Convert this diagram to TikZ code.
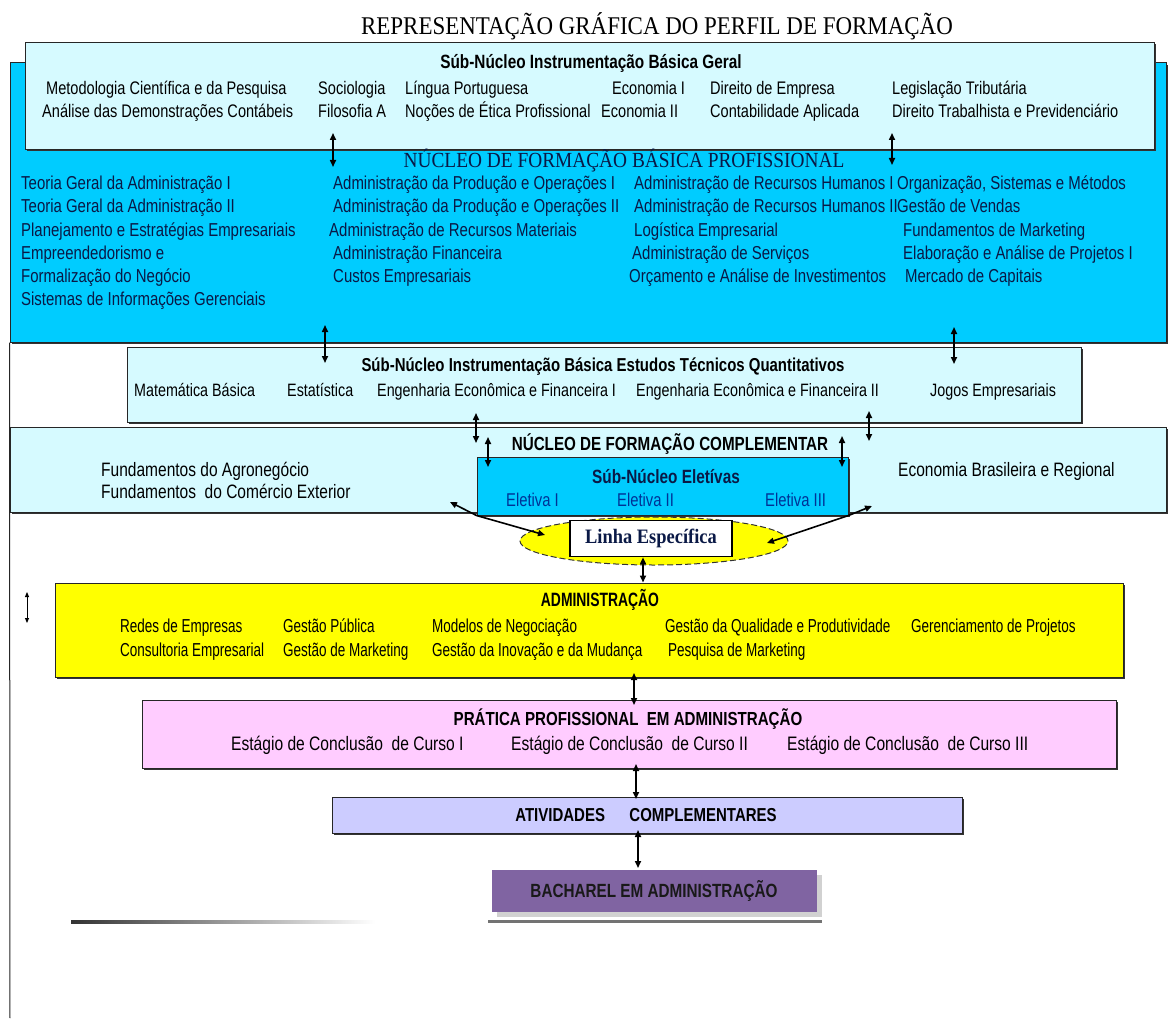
\documentclass[tikz,border=0pt]{standalone}
\usepackage{fontspec}
\setmainfont{Liberation Sans}
\newfontfamily\narrowfont[FakeStretch=0.8]{Liberation Sans}
\newfontfamily\tightfont[FakeStretch=0.72]{Liberation Sans}
\newfontfamily\timesfont[FakeStretch=0.9]{Liberation Serif}
\usetikzlibrary{shapes.geometric,arrows.meta,positioning,shadows}

\definecolor{palecyan}{RGB}{214,250,255}
\definecolor{skycyan}{RGB}{0,204,255}
\definecolor{navytext}{RGB}{10,25,70}
\definecolor{eletblue}{RGB}{0,50,150}
\definecolor{admyellow}{RGB}{255,255,0}
\definecolor{pinkbox}{RGB}{255,204,255}
\definecolor{lavender}{RGB}{204,204,255}
\definecolor{bachpurple}{RGB}{128,100,162}

\begin{document}
\begin{tikzpicture}[x=1pt, y=-1pt,
		panel/.style={draw=black!85, line width=1pt, inner sep=0pt,
			drop shadow={shadow xshift=2pt, shadow yshift=-2pt, fill=black!80, opacity=1}},
		item/.style={anchor=west, inner sep=0pt, text height=12pt, text depth=3pt,
			font=\narrowfont\fontsize{#1}{#1}\selectfont},
		item/.default=18.2,
		admitem/.style={anchor=west, inner sep=0pt, text height=12pt, text depth=3pt,
			font=\tightfont\fontsize{18.75}{19}\selectfont},
		heading/.style={inner sep=0pt, font=\narrowfont\bfseries\fontsize{#1}{#1}\selectfont},
		heading/.default=19,
		twoway/.style={{Triangle[length=7pt,width=6pt]}-{Triangle[length=7pt,width=6pt]}, line width=1.6pt}
	]
	\useasboundingbox (0,0) rectangle (1169,1019);
	\fill[white] (0,0) rectangle (1169,1019);

	\node[font=\timesfont\fontsize{25.5}{27}\selectfont, inner sep=0pt] (titulo) at (657,26)
		{REPRESENTAÇÃO GRÁFICA DO PERFIL DE FORMAÇÃO};

	% caixas
	\node[panel, fill=skycyan, minimum width=1156pt, minimum height=279pt] (basica) at (588,202.5) {};
	\node[panel, fill=palecyan, minimum width=1129pt, minimum height=107pt] (geral) at (589.5,96) {};
	\node[panel, fill=palecyan, minimum width=954pt, minimum height=75pt] (quant) at (604,384.5) {};
	\node[panel, fill=palecyan, minimum width=1156pt, minimum height=85pt] (compl) at (588,469.5) {};
	\node[panel, fill=skycyan, minimum width=371pt, minimum height=58pt] (elet) at (662.5,486) {};
	\node[ellipse, draw=black!80, line width=1pt, dash pattern=on 6pt off 3pt, fill=admyellow,
		minimum width=268pt, minimum height=48pt, inner sep=0pt] (linhaell) at (654,541) {};
	\node[draw=black, line width=1.6pt, fill=white, minimum width=162pt, minimum height=36pt,
		inner sep=0pt, text=navytext, font=\timesfont\bfseries\fontsize{20.5}{22}\selectfont]
		(linha) at (651,538.5) {Linha Específica};
	\node[panel, fill=admyellow, minimum width=1068pt, minimum height=94pt] (adm) at (589,630) {};
	\node[panel, fill=pinkbox, minimum width=974pt, minimum height=68pt] (pratica) at (629,734) {};
	\node[panel, fill=lavender, minimum width=630pt, minimum height=36pt] (ativ) at (647,815) {};
	\node[fill=bachpurple, minimum width=325pt, minimum height=42pt, inner sep=0pt,
		drop shadow={shadow xshift=5pt, shadow yshift=-5pt, fill=black!18, opacity=1}] (bach) at (654.5,891) {};

	% linhas soltas
	\coordinate (framebot) at (10,1018);
	\draw[line width=1pt, black!85] (basica.south west) -- (framebot);
	\shade[left color=black!80, right color=white] (71,920) rectangle (375,923);
	\fill[black!55] (488,920) rectangle (822,923);

	% sub-nucleo geral
	\node[heading=19.2] (geraltit) at (591,63) {Súb-Núcleo Instrumentação Básica Geral};
	\node[item] (g1) at (46,90) {Metodologia Científica e da Pesquisa};
	\node[item] (g2) at (318,90) {Sociologia};
	\node[item] (g3) at (405,90) {Língua Portuguesa};
	\node[item] (g4) at (612,90) {Economia I};
	\node[item] (g5) at (710,90) {Direito de Empresa};
	\node[item] (g6) at (892,90) {Legislação Tributária};
	\node[item] (g7) at (42,113) {Análise das Demonstrações Contábeis};
	\node[item] (g8) at (318,113) {Filosofia A};
	\node[item] (g9) at (405,113) {Noções de Ética Profissional};
	\node[item] (g10) at (601,113) {Economia II};
	\node[item] (g11) at (710,113) {Contabilidade Aplicada};
	\node[item] (g12) at (892,113) {Direito Trabalhista e Previdenciário};

	% nucleo de formacao basica profissional
	\node[font=\timesfont\fontsize{21.5}{22}\selectfont, text=navytext, inner sep=0pt] (basicatit) at (624,161)
		{NÚCLEO DE FORMAÇÃO BÁSICA PROFISSIONAL};
	\node[item=18.7, text=navytext] (b1) at (21,185) {Teoria Geral da Administração I};
	\node[item=18.7, text=navytext] (b2) at (21,208) {Teoria Geral da Administração II};
	\node[item=18.7, text=navytext] (b3) at (21,232) {Planejamento e Estratégias Empresariais};
	\node[item=18.7, text=navytext] (b4) at (21,255) {Empreendedorismo e};
	\node[item=18.7, text=navytext] (b5) at (21,278) {Formalização do Negócio};
	\node[item=18.7, text=navytext] (b6) at (21,301) {Sistemas de Informações Gerenciais};
	\node[item=18.7, text=navytext] (b7) at (333,185) {Administração da Produção e Operações I};
	\node[item=18.7, text=navytext] (b8) at (333,208) {Administração da Produção e Operações II};
	\node[item=18.7, text=navytext] (b9) at (329,232) {Administração de Recursos Materiais};
	\node[item=18.7, text=navytext] (b10) at (333,255) {Administração Financeira};
	\node[item=18.7, text=navytext] (b11) at (333,278) {Custos Empresariais};
	\node[item=18.7, text=navytext] (b12) at (634,185) {Administração de Recursos Humanos I};
	\node[item=18.7, text=navytext] (b13) at (634,208) {Administração de Recursos Humanos II};
	\node[item=18.7, text=navytext] (b14) at (634,232) {Logística Empresarial};
	\node[item=18.7, text=navytext] (b15) at (632,255) {Administração de Serviços};
	\node[item=18.7, text=navytext] (b16) at (629,278) {Orçamento e Análise de Investimentos};
	\node[item=18.7, text=navytext] (b17) at (897,185) {Organização, Sistemas e Métodos};
	\node[item=18.7, text=navytext] (b18) at (897,208) {Gestão de Vendas};
	\node[item=18.7, text=navytext] (b19) at (903,232) {Fundamentos de Marketing};
	\node[item=18.7, text=navytext] (b20) at (903,255) {Elaboração e Análise de Projetos I};
	\node[item=18.7, text=navytext] (b21) at (905,278) {Mercado de Capitais};

	% estudos tecnicos quantitativos
	\node[heading=18.7] (quanttit) at (603,367) {Súb-Núcleo Instrumentação Básica Estudos Técnicos Quantitativos};
	\node[item=17.9] (q1) at (134,392) {Matemática Básica};
	\node[item=17.9] (q2) at (287,392) {Estatística};
	\node[item=17.9] (q3) at (377,392) {Engenharia Econômica e Financeira I};
	\node[item=17.9] (q4) at (636,392) {Engenharia Econômica e Financeira II};
	\node[item=17.9] (q5) at (930,392) {Jogos Empresariais};

	% formacao complementar
	\node[heading] (compltit) at (670,444) {NÚCLEO DE FORMAÇÃO COMPLEMENTAR};
	\node[item=19.4] (c1) at (101,472) {Fundamentos do Agronegócio};
	\node[item=19.4] (c2) at (101,494) {Fundamentos\ \ do Comércio Exterior};
	\node[item=19.4] (c3) at (898,472) {Economia Brasileira e Regional};
	\node[heading=19.2, text=navytext] (elettit) at (666,477) {Súb-Núcleo Eletívas};
	\node[item=18.5, text=eletblue] (e1) at (506,502) {Eletiva I};
	\node[item=18.5, text=eletblue] (e2) at (617,502) {Eletiva II};
	\node[item=18.5, text=eletblue] (e3) at (765,502) {Eletiva III};

	% administracao
	\node[inner sep=0pt, font=\tightfont\bfseries\fontsize{19.3}{19}\selectfont] (admtit) at (600,600) {ADMINISTRAÇÃO};
	\node[admitem] (a1) at (120,628) {Redes de Empresas};
	\node[admitem] (a2) at (283,628) {Gestão Pública};
	\node[admitem] (a3) at (432,628) {Modelos de Negociação};
	\node[admitem] (a4) at (665,628) {Gestão da Qualidade e Produtividade};
	\node[admitem] (a5) at (911,628) {Gerenciamento de Projetos};
	\node[admitem] (a6) at (120,652) {Consultoria Empresarial};
	\node[admitem] (a7) at (283,652) {Gestão de Marketing};
	\node[admitem] (a8) at (432,652) {Gestão da Inovação e da Mudança};
	\node[admitem] (a9) at (668,652) {Pesquisa de Marketing};

	% pratica, atividades, bacharel
	\node[heading=18.9] (pratit) at (628,719) {PRÁTICA PROFISSIONAL\ \ EM ADMINISTRAÇÃO};
	\node[item=19.5] (p1) at (231,746) {Estágio de Conclusão\ \ de Curso I};
	\node[item=19.5] (p2) at (511,746) {Estágio de Conclusão\ \ de Curso II};
	\node[item=19.5] (p3) at (787,746) {Estágio de Conclusão\ \ de Curso III};
	\node[heading=18.75] (ativtit) at (646,815) {ATIVIDADES\hspace{1.3em}COMPLEMENTARES};
	\node[heading=19.1, text=black!90] (bachtit) at (654,891) {BACHAREL EM ADMINISTRAÇÃO};

	% setas
	\coordinate (s1a) at (333,133); \coordinate (s1b) at (333,167);
	\coordinate (s2a) at (892,133); \coordinate (s2b) at (892,165);
	\coordinate (s3a) at (325,325); \coordinate (s3b) at (325,363);
	\coordinate (s4a) at (954,327); \coordinate (s4b) at (954,364);
	\coordinate (s5a) at (476,413); \coordinate (s5b) at (476,443);
	\coordinate (s6a) at (488,437); \coordinate (s6b) at (488,467);
	\coordinate (s7a) at (869,411); \coordinate (s7b) at (869,441);
	\coordinate (s8a) at (842,436); \coordinate (s8b) at (842,467);
	\draw[twoway] (s1a) -- (s1b);
	\draw[twoway] (s2a) -- (s2b);
	\draw[twoway] (s3a) -- (s3b);
	\draw[twoway] (s4a) -- (s4b);
	\draw[twoway] (s5a) -- (s5b);
	\draw[twoway] (s6a) -- (s6b);
	\draw[twoway] (s7a) -- (s7b);
	\draw[twoway] (s8a) -- (s8b);

	\coordinate (esqtip) at (450,502); \coordinate (esqell) at (545,535);
	\coordinate (dirtip) at (872,506); \coordinate (direll) at (767,543);
	\draw[twoway] (esqtip) -- (elet.south west) -- (esqell);
	\draw[twoway] (direll) -- (elet.south east) -- (dirtip);

	\coordinate (linhaout) at ([xshift=-8pt]linha.south);
	\draw[twoway] (linhaout) -- (adm.north -| linhaout);
	\coordinate (s9a) at (634,673); \coordinate (s9b) at (634,705);
	\draw[twoway] (s9a) -- (s9b);
	\coordinate (s10a) at (636,764); \coordinate (s10b) at (636,799);
	\draw[twoway] (s10a) -- (s10b);
	\coordinate (s11a) at (638,830); \coordinate (s11b) at (638,868);
	\draw[twoway] (s11a) -- (s11b);
	\coordinate (s12a) at (27,592); \coordinate (s12b) at (27,623);
	\draw[{Triangle[length=5pt,width=4pt]}-{Triangle[length=5pt,width=4pt]}, line width=0.9pt] (s12a) -- (s12b);
\end{tikzpicture}
\end{document}
